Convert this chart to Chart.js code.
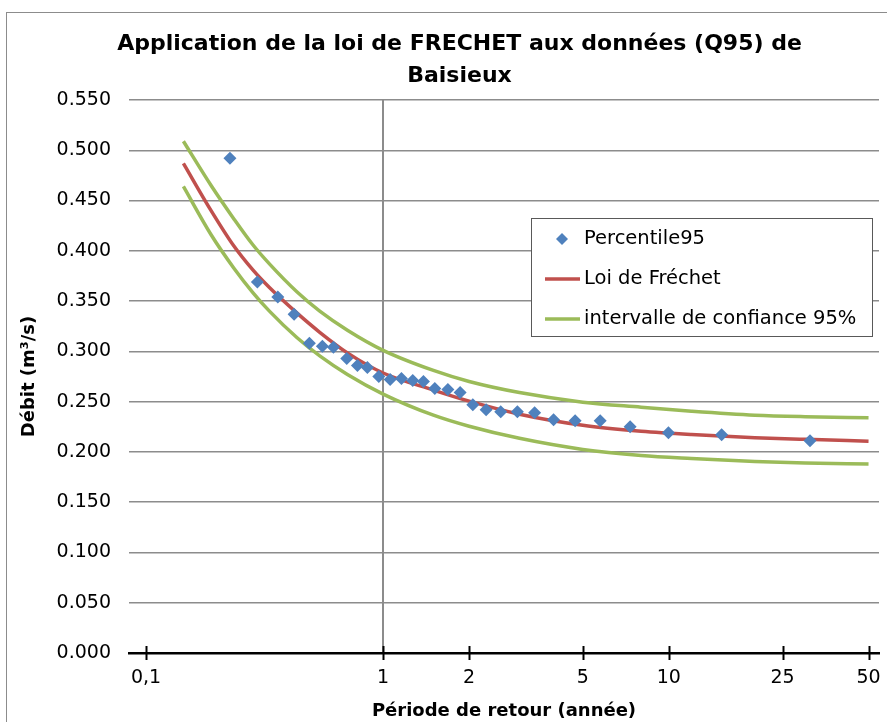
<!DOCTYPE html>
<html>
<head>
<meta charset="utf-8">
<script src="https://cdn.jsdelivr.net/npm/chart.js@4.4.0/dist/chart.umd.min.js"></script>
<style>
  html, body { margin: 0; padding: 0; background: #fff; }
  #conteneur { position: relative; width: 887px; height: 722px; }
</style>
</head>
<body>
<div id="conteneur"><canvas id="graphique-frechet"></canvas></div>
<script>
// Points observés : période de retour (années) et débit Q95 (m3/s)
const periodesObs = [0.291, 0.363, 0.428, 0.488, 0.552, 0.613, 0.670, 0.746, 0.813, 0.881,
  0.966, 1.058, 1.159, 1.270, 1.384, 1.517, 1.685, 1.860, 2.060, 2.294,
  2.580, 2.950, 3.390, 3.950, 4.700, 5.750, 7.320, 9.970, 15.30, 31.20];
const debitsObs = [0.492, 0.369, 0.354, 0.337, 0.308, 0.305, 0.304, 0.293, 0.286, 0.284,
  0.275, 0.272, 0.273, 0.271, 0.270, 0.263, 0.262, 0.259, 0.247, 0.242,
  0.240, 0.240, 0.239, 0.232, 0.231, 0.231, 0.225, 0.219, 0.217, 0.211];

// Courbes ajustées (loi de Fréchet + bornes de l'intervalle de confiance)
const periodesLoi = [0.2, 0.25, 0.3, 0.35, 0.4, 0.5, 0.6, 0.75, 1, 1.5, 2, 3, 5, 8, 12, 20, 30, 50];
const loiFrechet = [0.487, 0.440, 0.405, 0.381, 0.3635, 0.338, 0.319, 0.2985, 0.2785, 0.2615,
  0.2505, 0.2375, 0.2265, 0.2205, 0.2172, 0.2142, 0.2125, 0.2107];
const borneSup = [0.509, 0.465, 0.432, 0.406, 0.387, 0.359, 0.340, 0.321, 0.301, 0.281,
  0.270, 0.259, 0.2495, 0.2445, 0.2405, 0.2365, 0.235, 0.234];
const borneInf = [0.464, 0.416, 0.383, 0.3585, 0.340, 0.3135, 0.2955, 0.277, 0.2575, 0.2365,
  0.2255, 0.2135, 0.2025, 0.1965, 0.1935, 0.1905, 0.189, 0.188];

// Graduations de l'axe des périodes (le libellé "0,1" est placé comme dans Excel)
const ticksPeriode = [0.148, 1, 2, 5, 10, 25, 50];
const labelsPeriode = ["0,1", "1", "2", "5", "10", "25", "50"];

const police = "'DejaVu Sans', sans-serif";
const gris = "#8c8c8c";

function enPoints(xs, ys) {
  const res = [];
  for (let i = 0; i < xs.length; i++) {
    res.push({ x: xs[i], y: ys[i] });
  }
  return res;
}

// Cadre gris autour du graphique
const pluginCadre = {
  id: "cadre",
  beforeDraw(chart) {
    const ctx = chart.ctx;
    ctx.save();
    ctx.fillStyle = "#fff";
    ctx.fillRect(0, 0, chart.width, chart.height);
    ctx.strokeStyle = gris;
    ctx.lineWidth = 1;
    ctx.strokeRect(6.5, 12.5, chart.width + 20, chart.height + 20);
    ctx.restore();
  },
};

// Graduations croisées sur l'axe horizontal (style Excel)
const pluginGraduations = {
  id: "graduations",
  afterDatasetsDraw(chart) {
    const ctx = chart.ctx;
    const echelle = chart.scales.x;
    const yAxe = chart.chartArea.bottom;
    ctx.save();
    ctx.strokeStyle = "#000";
    ctx.lineWidth = 2;
    for (const t of echelle.ticks) {
      const px = Math.round(echelle.getPixelForValue(t.value)) + 0.5;
      ctx.beginPath();
      ctx.moveTo(px, yAxe - 7);
      ctx.lineTo(px, yAxe + 7);
      ctx.stroke();
    }
    ctx.restore();
  },
};

// Légende encadrée à l'intérieur de la zone de tracé
const pluginLegende = {
  id: "legendeExcel",
  afterDraw(chart, args, opts) {
    const ctx = chart.ctx;
    const entrees = chart.data.datasets.filter((d) => d.label);
    ctx.save();
    ctx.fillStyle = "#fff";
    ctx.fillRect(opts.x, opts.y, opts.largeur, opts.hauteur);
    ctx.strokeStyle = "#595959";
    ctx.lineWidth = 1;
    ctx.strokeRect(opts.x + 0.5, opts.y + 0.5, opts.largeur, opts.hauteur);
    ctx.font = "19.5px " + police;
    ctx.textBaseline = "middle";
    ctx.textAlign = "left";
    for (let i = 0; i < entrees.length; i++) {
      const d = entrees[i];
      const yc = opts.y + opts.premiereLigne + i * opts.interligne;
      const xm = opts.x + opts.decalageSymbole;
      if (d.showLine === false) {
        ctx.fillStyle = d.backgroundColor;
        ctx.beginPath();
        ctx.moveTo(xm + 17, yc - 6);
        ctx.lineTo(xm + 23, yc);
        ctx.lineTo(xm + 17, yc + 6);
        ctx.lineTo(xm + 11, yc);
        ctx.closePath();
        ctx.fill();
      } else {
        ctx.strokeStyle = d.borderColor;
        ctx.lineWidth = 3.5;
        ctx.beginPath();
        ctx.moveTo(xm, yc);
        ctx.lineTo(xm + 35, yc);
        ctx.stroke();
      }
      ctx.fillStyle = "#000";
      ctx.fillText(d.label, xm + 39, yc);
    }
    ctx.restore();
  },
};

const data = {
  datasets: [
    {
      label: "Percentile95",
      data: enPoints(periodesObs, debitsObs),
      showLine: false,
      pointStyle: "rectRot",
      pointRadius: 6.5,
      pointBorderWidth: 0,
      backgroundColor: "#4f81bd",
      borderColor: "#4f81bd",
    },
    {
      label: "Loi de Fréchet",
      data: enPoints(periodesLoi, loiFrechet),
      showLine: true,
      borderColor: "#c0504d",
      borderWidth: 3.5,
      pointRadius: 0,
      cubicInterpolationMode: "monotone",
    },
    {
      label: "intervalle de confiance 95%",
      data: enPoints(periodesLoi, borneSup),
      showLine: true,
      borderColor: "#9bbb59",
      borderWidth: 3.5,
      pointRadius: 0,
      cubicInterpolationMode: "monotone",
    },
    {
      label: "",
      data: enPoints(periodesLoi, borneInf),
      showLine: true,
      borderColor: "#9bbb59",
      borderWidth: 3.5,
      pointRadius: 0,
      cubicInterpolationMode: "monotone",
    },
  ],
};

const config = {
  type: "scatter",
  data: data,
  options: {
    responsive: true,
    maintainAspectRatio: false,
    animation: false,
    devicePixelRatio: 1,
    // marge gauche élargie pour centrer le titre comme dans Excel
    layout: { padding: { left: 40, right: 8, top: 0, bottom: 0 } },
    plugins: {
      legend: { display: false },
      tooltip: { enabled: false },
      title: {
        display: true,
        text: ["Application de la loi de FRECHET aux données (Q95) de", "Baisieux"],
        color: "#000",
        font: { family: police, size: 22, weight: "bold", lineHeight: 1.45 },
        padding: { top: 28, bottom: 8.2 },
      },
      legendeExcel: {
        x: 531, y: 218, largeur: 341, hauteur: 118,
        premiereLigne: 21, interligne: 40, decalageSymbole: 14,
      },
    },
    scales: {
      x: {
        type: "logarithmic",
        min: 0.129,
        max: 54.4,
        afterFit(scale) {
          scale.height = 69;
          scale.paddingRight = 0;
        },
        afterBuildTicks(scale) {
          scale.ticks = ticksPeriode.map((v) => ({ value: v }));
        },
        ticks: {
          color: "#000",
          font: { family: police, size: 19 },
          padding: 14,
          maxRotation: 0,
          autoSkip: false,
          callback: (v, i) => labelsPeriode[i],
        },
        grid: {
          drawTicks: false,
          color: (c) => (c.tick && c.tick.value === 1 ? gris : "rgba(0,0,0,0)"),
          lineWidth: 2,
        },
        border: { display: true, color: "#000", width: 2.5 },
        title: {
          display: true,
          text: "Période de retour (année)",
          color: "#000",
          font: { family: police, size: 18, weight: "bold" },
          padding: { top: 0, bottom: 0 },
        },
      },
      y: {
        min: 0,
        max: 0.55,
        afterFit(scale) { scale.width = 89; },
        ticks: {
          stepSize: 0.05,
          color: "#000",
          font: { family: police, size: 19 },
          padding: 18,
          callback: (v) => v.toFixed(3),
        },
        grid: {
          drawTicks: false,
          color: (c) => (c.tick && c.tick.value === 0 ? "rgba(0,0,0,0)" : gris),
          lineWidth: 1.5,
        },
        border: { display: false },
        title: {
          display: true,
          text: "Débit (m³/s)",
          color: "#000",
          font: { family: police, size: 18, weight: "bold" },
          padding: { top: -21, bottom: 0 },
        },
      },
    },
  },
  plugins: [pluginCadre, pluginGraduations, pluginLegende],
};

new Chart(document.querySelector("#graphique-frechet"), config);
</script>
</body>
</html>
